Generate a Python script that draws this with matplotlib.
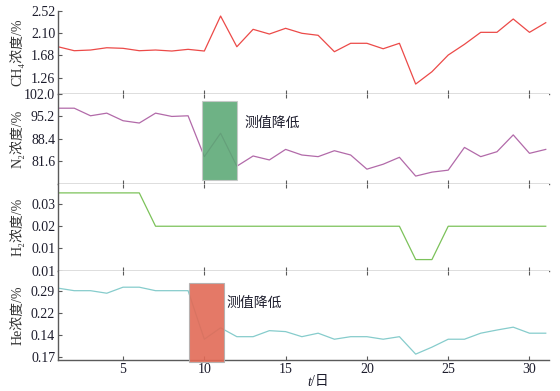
import matplotlib
matplotlib.use('Agg')
import matplotlib.pyplot as plt
from matplotlib.patches import Rectangle

plt.rcParams['font.family'] = ['Liberation Serif', 'DejaVu Serif', 'Noto Sans CJK SC']
plt.rcParams['font.size'] = 10

# day index
days = list(range(1, 32))

ch4 = [1.845, 1.770, 1.783, 1.826, 1.815, 1.770, 1.783, 1.764, 1.796, 1.764,
       2.425, 1.845, 2.174, 2.085, 2.193, 2.099, 2.061, 1.751, 1.910, 1.910,
       1.807, 1.910, 1.140, 1.373, 1.688, 1.891, 2.117, 2.117, 2.369, 2.117,
       2.299]
n2 = [97.6, 97.6, 95.3, 96.1, 93.8, 93.1, 96.1, 95.1, 95.3, 82.9,
      90.0, 80.0, 83.1, 81.9, 85.1, 83.4, 82.9, 84.7, 83.4, 79.1,
      80.6, 82.7, 77.0, 78.2, 78.8, 85.7, 82.9, 84.4, 89.5, 83.9,
      85.1]
h2 = [0.035, 0.035, 0.035, 0.035, 0.035, 0.035, 0.020, 0.020, 0.020, 0.020,
      0.020, 0.020, 0.020, 0.020, 0.020, 0.020, 0.020, 0.020, 0.020, 0.020,
      0.020, 0.020, 0.005, 0.005, 0.020, 0.020, 0.020, 0.020, 0.020, 0.020,
      0.020]
he = [0.298, 0.290, 0.290, 0.282, 0.301, 0.301, 0.290, 0.290, 0.290, 0.137,
      0.173, 0.145, 0.145, 0.164, 0.161, 0.145, 0.156, 0.137, 0.145, 0.145,
      0.137, 0.145, 0.090, 0.112, 0.137, 0.137, 0.156, 0.166, 0.175, 0.156,
      0.156]

# y ticks as printed on the original (labels are rounded oddly)
ch4_ticks = [2.52, 2.10, 1.68, 1.26]
ch4_labels = ['2.52', '2.10', '1.68', '1.26']
n2_ticks = [102.0, 95.2, 88.4, 81.6]
n2_labels = ['102.0', '95.2', '88.4', '81.6']
h2_ticks = [0.03, 0.02, 0.01, 0.0]
h2_labels = ['0.03', '0.02', '0.01', '0.01']
he_ticks = [0.29, 0.22, 0.15, 0.08]
he_labels = ['0.29', '0.22', '0.14', '0.17']
x_ticks = [5, 10, 15, 20, 25, 30]

# highlighted "measured value dropped" windows: (x0, x1, y0, y1)
n2_drop = (9.85, 12.0, 75.8, 99.8)
he_drop = (9.07, 11.18, 0.066, 0.315)
note = '测值降低'

panels = [
    dict(y=ch4, color='#ec4a48', lim=(0.958, 2.52), ticks=ch4_ticks,
         labels=ch4_labels, ylabel='CH₄浓度/%'),
    dict(y=n2, color='#b26aa9', lim=(74.6, 102.0), ticks=n2_ticks,
         labels=n2_labels, ylabel='N₂浓度/%'),
    dict(y=h2, color='#7cc25a', lim=(0.0, 0.039), ticks=h2_ticks,
         labels=h2_labels, ylabel='H₂浓度/%'),
    dict(y=he, color='#86cccc', lim=(0.0715, 0.353), ticks=he_ticks,
         labels=he_labels, ylabel='He浓度/%'),
]

fig = plt.figure(figsize=(5.6, 3.91), dpi=100)
W, H = 560.0, 391.0
left, right = 58 / W, 549 / W
edges = [11, 93.7, 184, 270.7, 360]
spine_col = '#5a5a5a'
text_col = '#1c1c2c'

axes = []
for i, p in enumerate(panels):
    top = 1 - edges[i] / H
    bot = 1 - edges[i + 1] / H
    ax = fig.add_axes([left, bot, right - left, top - bot])
    ax.plot(days, p['y'], color=p['color'], lw=0.9)
    ax.set_xlim(1, 31.2)
    ax.set_ylim(*p['lim'])
    ax.set_yticks(p['ticks'])
    ax.set_yticklabels(p['labels'])
    ax.set_xticks(x_ticks)
    ax.spines['right'].set_visible(False)
    ax.spines['top'].set_visible(False)
    for s in ('left', 'bottom'):
        ax.spines[s].set_color(spine_col)
        ax.spines[s].set_linewidth(1.0)
    ax.tick_params(direction='in', length=3, width=0.8, color=spine_col,
                   labelcolor=text_col, labelsize=10, pad=2)
    ax.tick_params(axis='x', top=(i > 0), bottom=True,
                   labelbottom=(i == 3))
    ax.set_ylabel(p['ylabel'], fontsize=10, color='#333333')
    ax.yaxis.set_label_coords(-0.068, 0.5)
    axes.append(ax)

# highlight boxes
x0, x1, y0, y1 = n2_drop
axes[1].add_patch(Rectangle((x0, y0), x1 - x0, y1 - y0, facecolor='#5aa874',
                            edgecolor='#c8c8c8', lw=0.8, alpha=0.88, zorder=3))
axes[1].text(12.45, 93.1, note, fontsize=10, color=text_col, va='center',
             ha='left')

x0, x1, y0, y1 = he_drop
axes[3].add_patch(Rectangle((x0, y0), x1 - x0, y1 - y0, facecolor='#e26a56',
                            edgecolor='#b0b0b0', lw=0.8, alpha=0.9, zorder=3,
                            clip_on=False))
axes[3].text(11.35, 0.251, note, fontsize=10, color=text_col, va='center',
             ha='left')

# x axis label: italic t, then /日
fig.text(311 / W, 1 - 382 / H, 't', style='italic', ha='right', va='center',
         fontsize=10, color=text_col)
fig.text(311 / W, 1 - 382 / H, '/日', ha='left', va='center',
         fontsize=10, color=text_col)

fig.savefig('out.png', dpi=100, facecolor='white')
